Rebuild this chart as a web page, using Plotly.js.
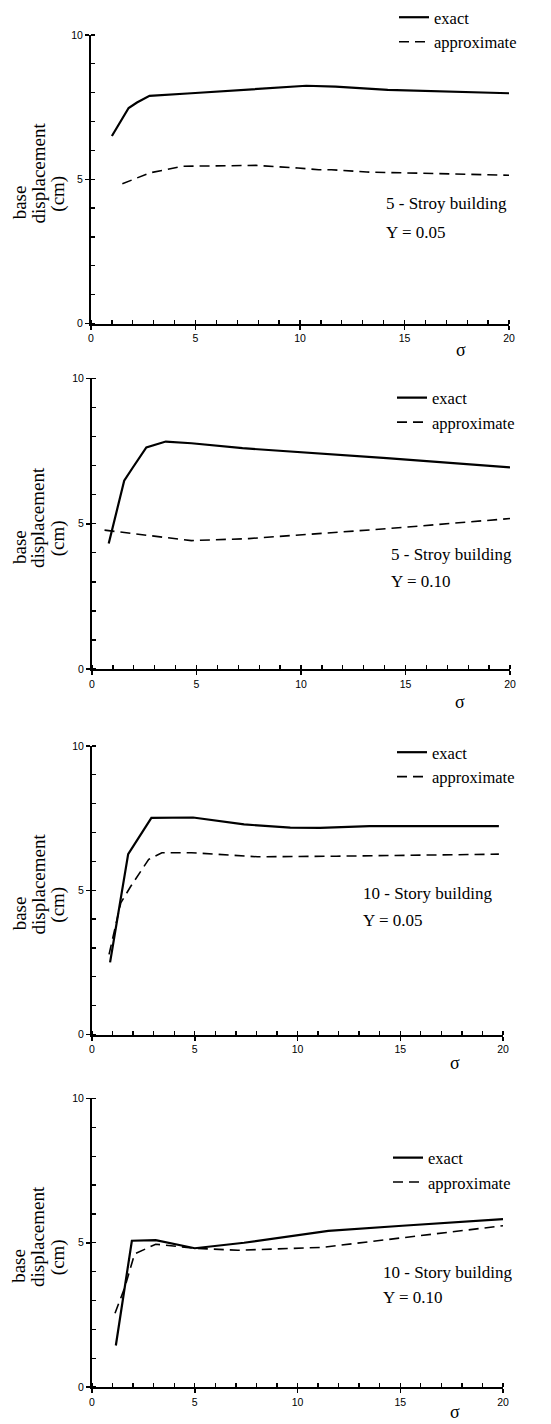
<!DOCTYPE html>
<html>
<head>
<meta charset="utf-8">
<script src="https://cdn.plot.ly/plotly-3.0.1.min.js"></script>
<style>html,body{margin:0;padding:0;background:#fff;}#chart{width:551px;height:1424px;}</style>
</head>
<body>
<div id="chart"></div>
<script>
// ---- data ----
const panelTitles = ["5 - Stroy building", "5 - Stroy building", "10 - Story building", "10 - Story building"];
const panelGammas = ["Y = 0.05", "Y = 0.10", "Y = 0.05", "Y = 0.10"];
const seriesNames = ["exact", "approximate"];
const xTickVals = [0, 5, 10, 15, 20];
const yTickVals = [0, 5, 10];

const sigma_p1_exact = [1.0, 1.8, 2.2, 2.8, 4.8, 7.9, 10.3, 11.7, 14.2, 20];
const disp_p1_exact  = [6.5, 7.47, 7.66, 7.89, 7.98, 8.13, 8.24, 8.21, 8.1, 7.98];
const sigma_p1_approx = [1.5, 2.8, 4.4, 7.9, 9.9, 10.9, 11.5, 13.2, 20];
const disp_p1_approx  = [4.84, 5.22, 5.45, 5.48, 5.39, 5.33, 5.33, 5.25, 5.14];

const sigma_p2_exact = [0.8, 1.54, 1.93, 2.6, 3.53, 4.76, 7.2, 10.65, 14.1, 20];
const disp_p2_exact  = [4.32, 6.48, 6.91, 7.63, 7.83, 7.77, 7.6, 7.43, 7.26, 6.94];
const sigma_p2_approx = [0.6, 1.4, 3.1, 4.76, 7.5, 10.65, 14.1, 20];
const disp_p2_approx  = [4.78, 4.71, 4.54, 4.42, 4.49, 4.65, 4.83, 5.18];

const sigma_p3_exact = [0.88, 1.76, 2.89, 4.92, 7.4, 9.65, 11.1, 13.5, 19.8];
const disp_p3_exact  = [2.5, 6.25, 7.51, 7.52, 7.28, 7.17, 7.16, 7.22, 7.22];
const sigma_p3_approx = [0.83, 1.4, 1.88, 2.76, 3.4, 4.84, 8.05, 11.9, 19.8];
const disp_p3_approx  = [2.78, 4.56, 5.13, 6.07, 6.3, 6.3, 6.16, 6.18, 6.25];

const sigma_p4_exact = [1.16, 1.94, 3.1, 3.98, 5.0, 7.4, 11.5, 15.1, 20];
const disp_p4_exact  = [1.44, 5.07, 5.09, 4.95, 4.81, 5.0, 5.41, 5.59, 5.82];
const sigma_p4_approx = [1.12, 1.6, 2.07, 3.1, 5.0, 7.1, 11.2, 15.1, 20];
const disp_p4_approx  = [2.56, 3.46, 4.61, 4.95, 4.81, 4.74, 4.84, 5.18, 5.59];

// ---- layout helpers ----
const W = 551, H = 1424;
const px = v => v / W;
const py = v => 1 - v / H;
const SERIF = "Liberation Serif, DejaVu Serif, serif";
const TICKFONT = {family: "Liberation Sans Narrow, Liberation Sans, Arial, sans-serif", size: 10.5, color: "#000"};

// plot areas in pixels [left, right, top, bottom]
const boxes = [
  [91, 509, 33, 322],
  [92, 510, 377, 668],
  [92, 503, 745, 1034],
  [92, 503, 1098, 1387]
];
// text positions inside each panel (axis-domain fractions)
const textPos = [
  {tx: 0.70, ty: 0.415, gy: 0.315, sx: 0.885, sy: -0.09},
  {tx: 0.71, ty: 0.395, gy: 0.302, sx: 0.880, sy: -0.115},
  {tx: 0.655, ty: 0.49, gy: 0.394, sx: 0.883, sy: -0.10},
  {tx: 0.703, ty: 0.398, gy: 0.311, sx: 0.883, sy: -0.085}
];
const legendPos = [[394, -2], [392, 379], [392, 734], [388, 1140]];

const panelData = [
  [sigma_p1_exact, disp_p1_exact, sigma_p1_approx, disp_p1_approx],
  [sigma_p2_exact, disp_p2_exact, sigma_p2_approx, disp_p2_approx],
  [sigma_p3_exact, disp_p3_exact, sigma_p3_approx, disp_p3_approx],
  [sigma_p4_exact, disp_p4_exact, sigma_p4_approx, disp_p4_approx]
];

const traces = [];
const layout = {
  width: W, height: H,
  margin: {l: 0, r: 0, t: 0, b: 0},
  paper_bgcolor: "#fff", plot_bgcolor: "#fff",
  showlegend: true,
  annotations: [],
  font: {family: SERIF, color: "#000"}
};

panelData.forEach((d, i) => {
  const n = i + 1;
  const xa = n === 1 ? "x" : "x" + n;
  const ya = n === 1 ? "y" : "y" + n;
  const lg = n === 1 ? "legend" : "legend" + n;
  traces.push({
    x: d[0], y: d[1], type: "scatter", mode: "lines", name: seriesNames[0],
    xaxis: xa, yaxis: ya, legend: lg,
    line: {color: "#000", width: 2.2}
  });
  traces.push({
    x: d[2], y: d[3], type: "scatter", mode: "lines", name: seriesNames[1],
    xaxis: xa, yaxis: ya, legend: lg,
    line: {color: "#000", width: 1.6, dash: "10px,6px"}
  });
  const b = boxes[i];
  const axCommon = {
    showline: true, linecolor: "#000", linewidth: 2,
    showgrid: false, zeroline: false,
    ticks: "outside", ticklen: 4, tickwidth: 1.5, tickcolor: "#000",
    tickfont: TICKFONT,
    minor: {dtick: 1, ticks: "inside", ticklen: 4, tickwidth: 1.3, tickcolor: "#000", showgrid: false},
    fixedrange: true
  };
  layout["xaxis" + (n === 1 ? "" : n)] = Object.assign({}, axCommon, {
    domain: [px(b[0]), px(b[1])], anchor: ya, range: [0, 20],
    tickmode: "array", tickvals: xTickVals, ticktext: xTickVals.map(String)
  });
  layout["yaxis" + (n === 1 ? "" : n)] = Object.assign({}, axCommon, {
    domain: [py(b[3]), py(b[2])], anchor: xa, range: [0, 10],
    tickmode: "array", tickvals: yTickVals, ticktext: yTickVals.map(String)
  });
  layout[lg] = {
    x: px(legendPos[i][0]), y: py(legendPos[i][1]), xanchor: "left", yanchor: "top",
    bgcolor: "rgba(0,0,0,0)", borderwidth: 0,
    font: {family: SERIF, size: 16.5, color: "#000"},
    itemwidth: 30, tracegroupgap: 0
  };
  const tp = textPos[i];
  const xd = xa + " domain", yd = ya + " domain";
  layout.annotations.push(
    {xref: xd, yref: yd, x: tp.tx, y: tp.ty, xanchor: "left", yanchor: "middle", showarrow: false,
     text: panelTitles[i], font: {family: SERIF, size: 17, color: "#000"}},
    {xref: xd, yref: yd, x: tp.tx, y: tp.gy, xanchor: "left", yanchor: "middle", showarrow: false,
     text: panelGammas[i], font: {family: SERIF, size: 17, color: "#000"}},
    {xref: xd, yref: yd, x: tp.sx, y: tp.sy, xanchor: "center", yanchor: "middle", showarrow: false,
     text: "σ", font: {family: SERIF, size: 18, color: "#000"}},
    {xref: "paper", yref: yd, x: px(19), y: 0.42, xanchor: "center", yanchor: "middle", showarrow: false,
     textangle: -90, text: "base", font: {family: SERIF, size: 19, color: "#000"}},
    {xref: "paper", yref: yd, x: px(38), y: 0.52, xanchor: "center", yanchor: "middle", showarrow: false,
     textangle: -90, text: "displacement", font: {family: SERIF, size: 19, color: "#000"}},
    {xref: "paper", yref: yd, x: px(58), y: 0.45, xanchor: "center", yanchor: "middle", showarrow: false,
     textangle: -90, text: "(cm)", font: {family: SERIF, size: 19, color: "#000"}}
  );
});

Plotly.newPlot("chart", traces, layout, {staticPlot: true, displayModeBar: false});
</script>
</body>
</html>
